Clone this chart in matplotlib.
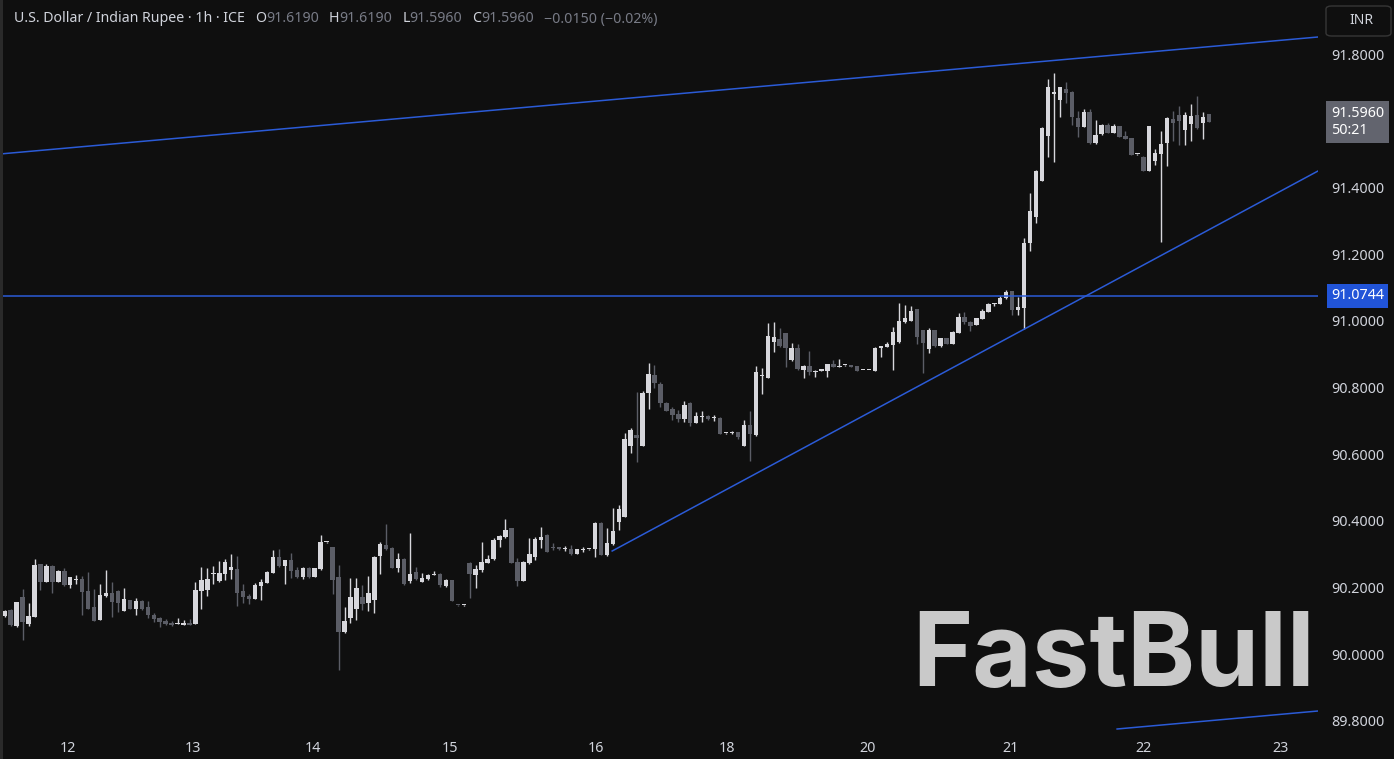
import matplotlib.pyplot as plt
from matplotlib.patches import FancyBboxPatch
import numpy as np

# hourly candles, USD/INR (ICE)
opens = [90.115, 90.132, 90.084, 90.171, 90.090, 90.112, 90.270, 90.217, 90.264, 90.217,
         90.249, 90.207, 90.223, 90.224, 90.189, 90.140, 90.102, 90.174, 90.182, 90.190,
         90.129, 90.162, 90.135, 90.159, 90.141, 90.117, 90.108, 90.099, 90.093, 90.091,
         90.087, 90.093, 90.090, 90.189, 90.192, 90.240, 90.219, 90.240, 90.252, 90.255,
         90.189, 90.174, 90.165, 90.204, 90.213, 90.243, 90.291, 90.264, 90.282, 90.252,
         90.231, 90.258, 90.231, 90.255, 90.335, 90.321, 90.231, 90.066, 90.107, 90.134,
         90.172, 90.152, 90.162, 90.294, 90.327, 90.317, 90.257, 90.285, 90.220, 90.245,
         90.217, 90.224, 90.238, 90.240, 90.204, 90.222, 90.147, 90.146, 90.274, 90.237,
         90.252, 90.274, 90.284, 90.342, 90.350, 90.377, 90.276, 90.220, 90.272, 90.292,
         90.342, 90.357, 90.322, 90.320, 90.314, 90.314, 90.300, 90.313, 90.314, 90.314,
         90.394, 90.297, 90.330, 90.397, 90.412, 90.625, 90.656, 90.625, 90.784, 90.837,
         90.810, 90.754, 90.734, 90.720, 90.705, 90.754, 90.694, 90.712, 90.714, 90.707,
         90.707, 90.662, 90.662, 90.666, 90.624, 90.687, 90.657, 90.834, 90.829, 90.937,
         90.944, 90.962, 90.882, 90.917, 90.852, 90.864, 90.847, 90.849, 90.850, 90.870,
         90.862, 90.866, 90.867, 90.864, 90.852, 90.852, 90.850, 90.917, 90.922, 90.927,
         90.935, 90.995, 90.999, 91.034, 90.972, 90.915, 90.972, 90.925, 90.947, 90.930,
         90.964, 91.010, 90.997, 90.987, 91.005, 91.027, 91.049, 91.050, 91.067, 91.089,
         91.032, 91.037, 91.234, 91.312, 91.420, 91.554, 91.679, 91.662, 91.695, 91.686,
         91.607, 91.582, 91.627, 91.534, 91.560, 91.587, 91.564, 91.584, 91.554, 91.547,
         91.499, 91.492, 91.450, 91.480, 91.500, 91.532, 91.604, 91.617, 91.572, 91.590,
         91.617, 91.594, 91.619]
highs = [90.132, 90.134, 90.157, 90.195, 90.153, 90.285, 90.271, 90.270, 90.267, 90.252,
         90.257, 90.232, 90.237, 90.234, 90.246, 90.194, 90.210, 90.252, 90.216, 90.191,
         90.198, 90.163, 90.168, 90.162, 90.159, 90.123, 90.112, 90.106, 90.100, 90.107,
         90.101, 90.105, 90.216, 90.261, 90.258, 90.264, 90.279, 90.285, 90.300, 90.294,
         90.210, 90.180, 90.213, 90.224, 90.249, 90.312, 90.315, 90.282, 90.303, 90.261,
         90.260, 90.261, 90.259, 90.357, 90.337, 90.322, 90.267, 90.141, 90.227, 90.229,
         90.207, 90.234, 90.295, 90.335, 90.390, 90.322, 90.302, 90.287, 90.364, 90.260,
         90.244, 90.240, 90.249, 90.242, 90.225, 90.223, 90.147, 90.147, 90.275, 90.267,
         90.336, 90.297, 90.347, 90.356, 90.404, 90.379, 90.287, 90.278, 90.347, 90.352,
         90.380, 90.360, 90.332, 90.321, 90.324, 90.327, 90.315, 90.320, 90.316, 90.395,
         90.395, 90.377, 90.437, 90.447, 90.662, 90.677, 90.787, 90.790, 90.874, 90.867,
         90.817, 90.757, 90.742, 90.732, 90.759, 90.756, 90.727, 90.729, 90.716, 90.717,
         90.710, 90.663, 90.670, 90.667, 90.702, 90.730, 90.864, 90.857, 90.994, 90.995,
         90.979, 90.964, 90.932, 90.930, 90.867, 90.910, 90.851, 90.855, 90.871, 90.882,
         90.884, 90.868, 90.868, 90.865, 90.853, 90.853, 90.922, 90.925, 90.935, 90.982,
         91.054, 91.047, 91.045, 91.035, 90.973, 90.979, 90.973, 90.949, 90.948, 90.968,
         91.024, 91.025, 90.998, 91.008, 91.035, 91.052, 91.054, 91.074, 91.092, 91.090,
         91.072, 91.247, 91.382, 91.452, 91.582, 91.725, 91.744, 91.702, 91.715, 91.688,
         91.630, 91.634, 91.634, 91.602, 91.590, 91.592, 91.590, 91.585, 91.569, 91.548,
         91.501, 91.493, 91.585, 91.514, 91.569, 91.612, 91.630, 91.644, 91.627, 91.650,
         91.674, 91.627, 91.619]
lows = [90.112, 90.085, 90.081, 90.042, 90.084, 90.110, 90.192, 90.215, 90.184, 90.215,
        90.204, 90.197, 90.210, 90.117, 90.134, 90.100, 90.102, 90.172, 90.112, 90.127,
        90.129, 90.134, 90.117, 90.133, 90.108, 90.096, 90.082, 90.088, 90.084, 90.090,
        90.086, 90.086, 90.089, 90.135, 90.174, 90.210, 90.217, 90.222, 90.225, 90.144,
        90.153, 90.150, 90.164, 90.162, 90.212, 90.242, 90.262, 90.210, 90.228, 90.229,
        90.225, 90.229, 90.230, 90.253, 90.334, 90.180, 89.952, 90.064, 90.092, 90.102,
        90.132, 90.129, 90.122, 90.240, 90.312, 90.257, 90.247, 90.208, 90.212, 90.222,
        90.215, 90.222, 90.236, 90.200, 90.200, 90.159, 90.145, 90.145, 90.169, 90.199,
        90.247, 90.272, 90.282, 90.322, 90.348, 90.272, 90.205, 90.219, 90.270, 90.282,
        90.317, 90.305, 90.312, 90.313, 90.309, 90.298, 90.299, 90.307, 90.313, 90.290,
        90.297, 90.295, 90.328, 90.372, 90.410, 90.602, 90.575, 90.623, 90.734, 90.797,
        90.742, 90.728, 90.702, 90.697, 90.697, 90.684, 90.692, 90.697, 90.702, 90.700,
        90.659, 90.661, 90.661, 90.644, 90.623, 90.580, 90.655, 90.780, 90.828, 90.907,
        90.922, 90.860, 90.879, 90.852, 90.829, 90.837, 90.832, 90.848, 90.832, 90.861,
        90.861, 90.865, 90.861, 90.849, 90.851, 90.851, 90.849, 90.892, 90.921, 90.852,
        90.933, 90.994, 90.998, 90.930, 90.844, 90.902, 90.922, 90.922, 90.929, 90.929,
        90.963, 90.990, 90.970, 90.986, 91.004, 91.026, 91.045, 91.049, 91.066, 91.017,
        91.017, 90.974, 91.210, 91.292, 91.418, 91.492, 91.477, 91.612, 91.652, 91.587,
        91.552, 91.580, 91.530, 91.529, 91.558, 91.563, 91.563, 91.551, 91.544, 91.496,
        91.498, 91.449, 91.449, 91.467, 91.237, 91.464, 91.540, 91.527, 91.527, 91.539,
        91.576, 91.545, 91.596]
closes = [90.130, 90.087, 90.156, 90.096, 90.114, 90.267, 90.217, 90.264, 90.217, 90.249,
          90.207, 90.230, 90.225, 90.187, 90.134, 90.100, 90.177, 90.182, 90.157, 90.154,
          90.165, 90.136, 90.159, 90.135, 90.117, 90.105, 90.096, 90.090, 90.087, 90.093,
          90.093, 90.087, 90.192, 90.222, 90.225, 90.243, 90.243, 90.276, 90.261, 90.183,
          90.171, 90.165, 90.207, 90.216, 90.246, 90.291, 90.264, 90.282, 90.249, 90.231,
          90.258, 90.231, 90.258, 90.336, 90.336, 90.222, 90.066, 90.099, 90.170, 90.199,
          90.150, 90.182, 90.290, 90.330, 90.316, 90.259, 90.284, 90.210, 90.240, 90.224,
          90.228, 90.237, 90.240, 90.207, 90.222, 90.160, 90.146, 90.147, 90.240, 90.256,
          90.276, 90.285, 90.342, 90.354, 90.372, 90.274, 90.220, 90.276, 90.300, 90.344,
          90.350, 90.307, 90.318, 90.314, 90.317, 90.300, 90.314, 90.314, 90.315, 90.394,
          90.297, 90.334, 90.370, 90.436, 90.645, 90.672, 90.649, 90.784, 90.840, 90.812,
          90.752, 90.730, 90.717, 90.705, 90.747, 90.694, 90.714, 90.714, 90.706, 90.710,
          90.660, 90.662, 90.666, 90.652, 90.687, 90.660, 90.845, 90.835, 90.954, 90.950,
          90.924, 90.917, 90.917, 90.854, 90.865, 90.847, 90.850, 90.854, 90.870, 90.862,
          90.865, 90.867, 90.862, 90.850, 90.852, 90.852, 90.919, 90.924, 90.930, 90.967,
          90.999, 91.009, 91.030, 90.950, 90.934, 90.972, 90.925, 90.947, 90.930, 90.967,
          91.010, 90.997, 90.985, 91.007, 91.029, 91.049, 91.051, 91.067, 91.087, 91.032,
          91.042, 91.234, 91.329, 91.449, 91.577, 91.702, 91.686, 91.700, 91.684, 91.610,
          91.582, 91.627, 91.532, 91.557, 91.587, 91.564, 91.584, 91.552, 91.545, 91.497,
          91.500, 91.450, 91.584, 91.502, 91.530, 91.607, 91.594, 91.599, 91.617, 91.614,
          91.577, 91.611, 91.596]

# day labels (position in candle index)
day_pos = [10.6, 31.6, 51.7, 74.7, 99.2, 121.2, 144.8, 168.7, 191.1, 214.0]
day_labels = ["12", "13", "14", "15", "16", "18", "20", "21", "22", "23"]
# 91.6 sits under the last-price tag, so it is not shown
price_ticks = [89.8, 90.0, 90.2, 90.4, 90.6, 90.8, 91.0, 91.2, 91.4, 91.8]

# drawn lines: (index, price) pairs
upper_line = ([-0.8, 220.3], [91.500, 91.851])
support_line = ([101.9, 220.3], [90.309, 91.449])
lower_line = ([186.6, 220.3], [89.775, 89.829])
level = 91.0744
countdown = "50:21"

header_title = "U.S. Dollar / Indian Rupee · 1h · ICE"
header_change = "−0.0150 (−0.02%)"

BG = "#0f0f0f"
TXT = "#d1d4dc"
DIM = "#787b86"
UP = "#d7d7dc"
DOWN = "#5b5d66"
BLUE = "#2b5bd7"

W, H = 1394, 759
fig = plt.figure(figsize=(W / 100, H / 100), dpi=100, facecolor=BG)
ax = fig.add_axes([0, 24 / H, 1318 / W, 735 / H])
ax.set_facecolor(BG)

o = np.array(opens)
hi = np.array(highs)
lo = np.array(lows)
c = np.array(closes)
idx = np.arange(len(o))
cols = [UP if cc >= oo else DOWN for oo, cc in zip(o, c)]

ax.vlines(idx, lo, hi, colors=cols, linewidth=1, zorder=2)
body = np.maximum(np.abs(c - o), 0.003)
ax.bar(idx, body, bottom=np.minimum(o, c), width=0.74, color=cols, linewidth=0, zorder=3)

ax.plot(*upper_line, color=BLUE, lw=1.1, zorder=4)
ax.plot(*support_line, color=BLUE, lw=1.1, zorder=4)
ax.plot(*lower_line, color=BLUE, lw=1.1, zorder=4)
ax.axhline(level, color=BLUE, lw=1.1, zorder=4)

ax.set_xlim(-0.79, 220.3)
ax.set_ylim(89.757, 91.962)

for s in ax.spines.values():
    s.set_visible(False)
ax.yaxis.tick_right()
ax.set_yticks(price_ticks)
ax.set_yticklabels([f"{p:.4f}" for p in price_ticks])
ax.set_xticks(day_pos)
ax.set_xticklabels(day_labels)
ax.tick_params(axis="both", length=0, colors=TXT, labelsize=10.3)
ax.tick_params(axis="y", pad=9.4)
ax.tick_params(axis="x", pad=4)
for lab in ax.get_xticklabels() + ax.get_yticklabels():
    lab.set_fontfamily("Noto Sans")

# price tags on the right scale
ax.annotate(f"{level:.4f}", xy=(1.0, level), xycoords=("axes fraction", "data"),
            xytext=(13, 0), textcoords="offset pixels", va="center", ha="left",
            color="white", fontsize=10.3, family="Noto Sans", zorder=6,
            bbox=dict(boxstyle="square,pad=0.3", fc="#2154d8", ec="none"),
            annotation_clip=False)

last = closes[-1]
ax.annotate(f"{last:.4f}\n{countdown}", xy=(1.0, last), xycoords=("axes fraction", "data"),
            xytext=(13, 0), textcoords="offset pixels", va="center", ha="left",
            color="white", fontsize=10.3, family="Noto Sans", linespacing=1.1,
            bbox=dict(boxstyle="square,pad=0.35", fc="#62646e", ec="none"),
            annotation_clip=False, zorder=6)

# currency box
fig.patches.append(FancyBboxPatch((1326 / W, 1 - 36 / H), 65 / W, 30 / H,
                                  boxstyle="round,pad=0,rounding_size=0.004",
                                  transform=fig.transFigure, fc=BG, ec="#363636", lw=1))
fig.text(1349 / W, 1 - 20 / H, "INR", color=TXT, fontsize=10, family="Noto Sans",
         ha="left", va="center")

# left border strip
fig.patches.append(plt.Rectangle((0, 0), 3 / W, 1, transform=fig.transFigure,
                                 fc="#2a2a2a", ec="none"))

# header line
renderer = fig.canvas.get_renderer()
parts = [(header_title, TXT, 10), ("O", TXT, 0), (f"{opens[-1]:.4f}", DIM, 10),
         ("H", TXT, 0), (f"{highs[-1]:.4f}", DIM, 10), ("L", TXT, 0),
         (f"{lows[-1]:.4f}", DIM, 10), ("C", TXT, 0), (f"{closes[-1]:.4f}", DIM, 10),
         (header_change, DIM, 0)]
x = 14
for txt, col, gap in parts:
    t = fig.text(x / W, 1 - 19 / H, txt, color=col, fontsize=10.2, family="Noto Sans",
                 ha="left", va="center")
    x = t.get_window_extent(renderer).x1 + gap

# watermark
fig.text(912 / W, 73 / H, "FastBull", color="#c9c9c9", fontsize=74, family="Inter",
         weight="bold", ha="left", va="baseline", zorder=10)

fig.savefig("out.png", dpi=100, facecolor=BG)
